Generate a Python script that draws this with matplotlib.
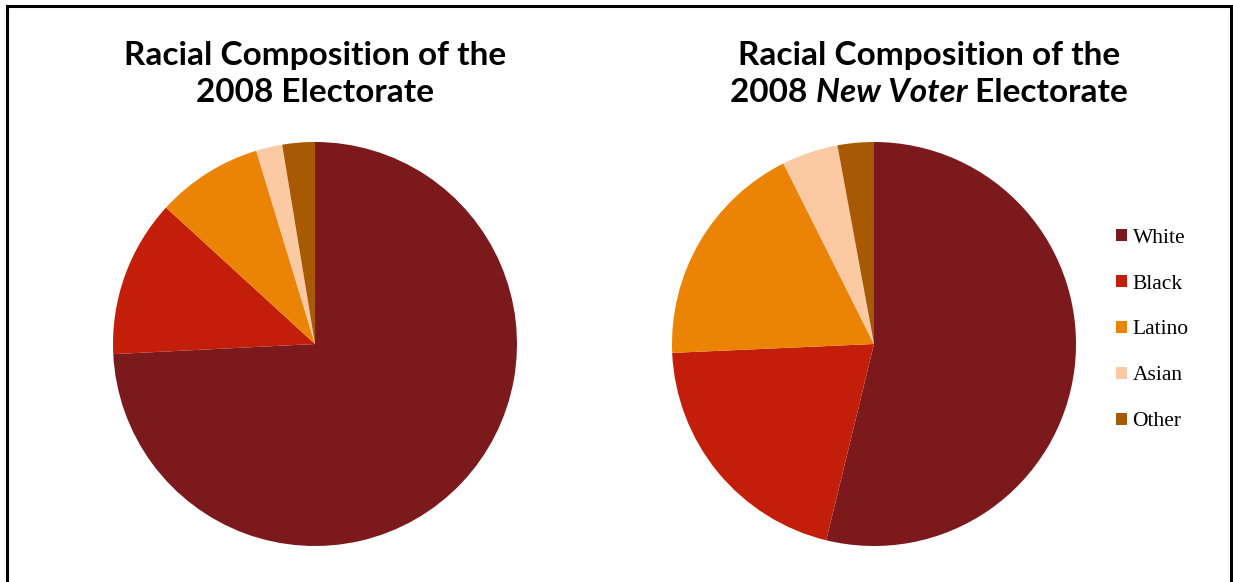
import matplotlib.pyplot as plt
from matplotlib.patches import Rectangle

# Data (percent of electorate)
groups = ["White", "Black", "Latino", "Asian", "Other"]
all_voters = [74.2, 12.6, 8.5, 2.1, 2.6]
new_voters = [53.8, 20.5, 18.3, 4.5, 2.9]
colors = ["#7B191C", "#C21E0A", "#EB8305", "#FBCAA2", "#A85904"]

W, H = 1233, 582
fig = plt.figure(figsize=(W / 100, H / 100), dpi=100)

def pie_axes(cx, cy, r):
    return fig.add_axes([(cx - r) / W, 1 - (cy + r) / H, 2 * r / W, 2 * r / H])

for cx, vals in [(315, all_voters), (874, new_voters)]:
    ax = pie_axes(cx, 344, 202)
    wedges, _ = ax.pie(vals, colors=colors, startangle=90, counterclock=False,
                       radius=1, wedgeprops=dict(linewidth=0))
    ax.set_xlim(-1, 1)
    ax.set_ylim(-1, 1)
    ax.set_aspect("equal")
    ax.axis("off")

# Titles
tfont = dict(family="Lato", weight="bold", size=24, color="black")
fig.text(315 / W, 1 - 55 / H, "Racial Composition of the", ha="center", va="center", **tfont)
fig.text(315 / W, 1 - 92 / H, "2008 Electorate", ha="center", va="center", **tfont)
fig.text(929 / W, 1 - 55 / H, "Racial Composition of the", ha="center", va="center", **tfont)

# second line of right title with italic part, laid out piece by piece
fig.canvas.draw()
renderer = fig.canvas.get_renderer()
parts = [("2008 ", "normal"), ("New Voter", "italic"), (" Electorate", "normal")]
texts = []
for s, style in parts:
    t = fig.text(0, 1 - 92 / H, s, ha="left", va="center", style=style, **tfont)
    texts.append(t)
widths = [t.get_window_extent(renderer).width for t in texts]
x = 929 - sum(widths) / 2
for t, w in zip(texts, widths):
    t.set_x(x / W)
    x += w

# Legend
fig.legend(wedges, groups, loc="center left", bbox_to_anchor=(1097 / W, 1 - 330 / H),
           frameon=False, prop=dict(family="Liberation Serif", size=15.5),
           handlelength=0.5, handleheight=0.5, handletextpad=0.25, labelspacing=1.25)

# Border around the chart (open at bottom, cut off)
fig.add_artist(Rectangle((7 / W, -0.05), (1231 - 7) / W, 1.05 - 6 / H,
                         transform=fig.transFigure, fill=False, edgecolor="black", linewidth=2.2))

fig.savefig("out.png", dpi=100)
